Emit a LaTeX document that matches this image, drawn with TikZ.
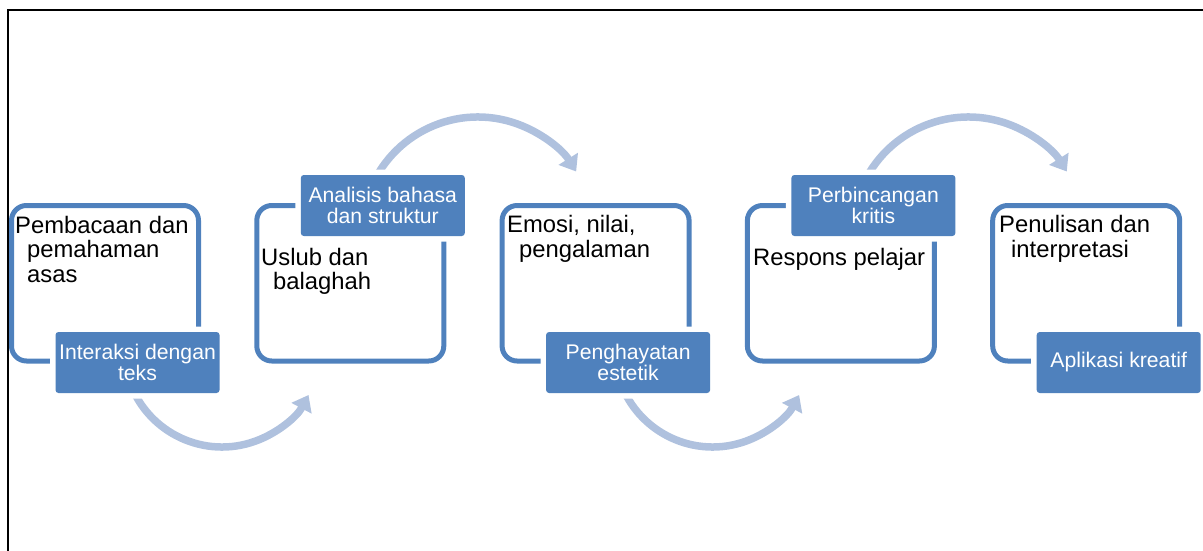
\documentclass[tikz,border=0pt]{standalone}
\usepackage{fontspec}
\setmainfont{Liberation Sans}
\usetikzlibrary{arrows.meta,calc}
\definecolor{boxblue}{HTML}{4F81BD}
\definecolor{arcblue}{HTML}{AFC1DE}
\begin{document}
\begin{tikzpicture}[x=1pt,y=-1pt,
  bigbox/.style={draw=boxblue, line width=5pt, rounded corners=15pt, minimum width=187pt, minimum height=155.5pt, inner sep=0pt},
  smallbox/.style={fill=boxblue, rounded corners=3pt, minimum width=164pt, minimum height=61pt, inner sep=0pt, text=white, align=center, font=\fontsize{21.2}{21}\selectfont, preaction={draw=white, line width=11pt}},
  boxtext/.style={anchor=north west, inner sep=0pt, align=left, font=\fontsize{23.8}{24.5}\selectfont},
  flow/.style={draw=arcblue, line width=7.5pt, -{Triangle[width=22pt,length=15pt]}},
  frame/.style={draw=black, line width=2pt}
]
\useasboundingbox (0,0) rectangle (1203,551);
\clip (0,0) rectangle (1203,551);

% outer frame (only top and left edges visible)
\coordinate (fbl) at (8,560);
\coordinate (ftl) at (8,10);
\coordinate (ftr) at (1210,10);
\draw[frame] (fbl) -- (ftl) -- (ftr);

% positions of small boxes (needed for arcs)
\coordinate (p1) at (137.5,362.5);
\coordinate (p2) at (382.8,205.5);
\coordinate (p3) at (628.1,362.5);
\coordinate (p4) at (873.4,205.5);
\coordinate (p5) at (1118.7,362.5);

% curved arrows
\coordinate (c1) at ($(p1)+(84.5,-13.5)$);
\coordinate (c2) at ($(p2)+(95,27.5)$);
\coordinate (c3) at ($(p3)+(84.5,-13.5)$);
\coordinate (c4) at ($(p4)+(95,27.5)$);
\draw[flow] ($(c1)+(160:98)$) arc[start angle=160, end angle=28, radius=98];
\draw[flow] ($(c2)+(200:116)$) arc[start angle=200, end angle=328, radius=116];
\draw[flow] ($(c3)+(160:98)$) arc[start angle=160, end angle=28, radius=98];
\draw[flow] ($(c4)+(200:116)$) arc[start angle=200, end angle=328, radius=116];

% big boxes
\node[bigbox] (b1) at (105,283.25) {};
\node[bigbox] (b2) at (350.3,283.25) {};
\node[bigbox] (b3) at (595.6,283.25) {};
\node[bigbox] (b4) at (840.9,283.25) {};
\node[bigbox] (b5) at (1086.2,283.25) {};

% small boxes
\node[smallbox] (s1) at (p1) {Interaksi dengan\\teks};
\node[smallbox] (s2) at (p2) {Analisis bahasa\\dan struktur};
\node[smallbox] (s3) at (p3) {Penghayatan\\estetik};
\node[smallbox] (s4) at (p4) {Perbincangan\\kritis};
\node[smallbox] (s5) at (p5) {Aplikasi kreatif};

% box texts
\node[boxtext] (t1) at (15,215.15) {\rule{0pt}{17.85pt}Pembacaan dan\\\hspace*{12pt}pemahaman\\\hspace*{12pt}asas};
\node[boxtext] (t2) at (261,247.15) {\rule{0pt}{17.85pt}Uslub dan\\\hspace*{12pt}balaghah};
\node[boxtext] (t3) at (507,214.65) {\rule{0pt}{17.85pt}Emosi, nilai,\\\hspace*{12pt}pengalaman};
\node[boxtext] (t4) at (753,247.15) {\rule{0pt}{17.85pt}Respons pelajar};
\node[boxtext] (t5) at (999,214.65) {\rule{0pt}{17.85pt}Penulisan dan\\\hspace*{12pt}interpretasi};
\end{tikzpicture}
\end{document}
